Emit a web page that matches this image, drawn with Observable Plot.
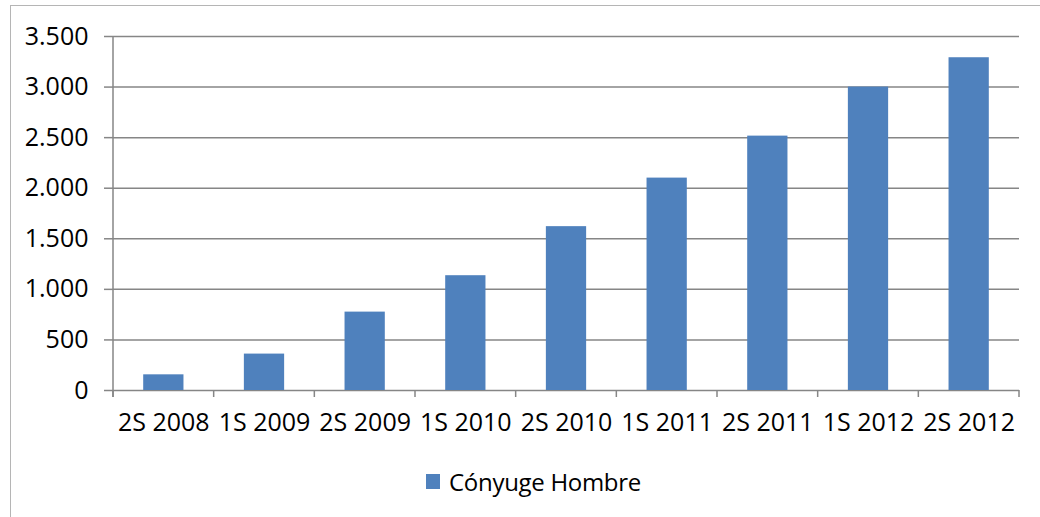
<!DOCTYPE html>
<html><head><meta charset="utf-8">
<script src="https://cdn.jsdelivr.net/npm/d3@7"></script>
<script src="https://cdn.jsdelivr.net/npm/@observablehq/plot@0.6"></script>
<style>
html,body{margin:0;padding:0;background:#fff;width:1040px;height:517px;overflow:hidden;}
#wrap{position:relative;width:1040px;height:517px;font-family:"Open Sans",sans-serif;}
#frame{position:absolute;left:10px;top:5px;width:1100px;height:600px;border:1.5px solid #b5b5b5;box-sizing:border-box;}
#chart{position:absolute;left:0;top:0;}
#legend{position:absolute;left:0;top:455px;width:1067px;height:52px;display:flex;justify-content:center;align-items:center;font-size:24px;letter-spacing:-0.3px;color:#000;}
.sw{display:inline-block;width:14px;height:15px;background:#4f81bd;margin-right:9px;}
</style></head><body>
<div id="wrap"><div id="frame"></div><div id="chart"></div><div id="legend"><span class="sw"></span><span id="lgtext"></span></div></div>
<script>
const categories = ["2S 2008","1S 2009","2S 2009","1S 2010","2S 2010","1S 2011","2S 2011","1S 2012","2S 2012"];
const values = [155, 360, 775, 1135, 1620, 2100, 2515, 3000, 3290];
const yTicks = [0, 500, 1000, 1500, 2000, 2500, 3000, 3500];
const seriesName = "Cónyuge Hombre";

const fmt = d3.formatLocale({decimal:",", thousands:".", grouping:[3], currency:["",""]}).format(",d");
const data = categories.map((c, i) => ({cat: c, value: values[i]}));
const gray = "#868686";

const plot = Plot.plot({
  width: 1040, height: 455,
  marginLeft: 113, marginRight: 21, marginTop: 36, marginBottom: 65,
  style: {fontFamily: "'Open Sans', sans-serif", fontSize: "25px", color: "#000", background: "transparent", overflow: "visible"},
  x: {domain: categories, paddingInner: 0.6, paddingOuter: 0.3, round: false, label: null},
  y: {domain: [0, 3500], label: null},
  marks: [
    Plot.ruleY(yTicks, {stroke: gray, strokeWidth: 1.5}),
    Plot.barY(data, {x: "cat", y: "value", fill: "#4f81bd"}),
    Plot.axisY(yTicks, {tickSize: 9, tickPadding: 16, tickFormat: fmt, stroke: gray, strokeWidth: 1.5, fill: "#000", label: null}),
    Plot.axisX({tickSize: 0, tickPadding: 23, fill: "#000", label: null})
  ]
});

// axis line and band-boundary ticks drawn from the plot's own scales
const xs = plot.scale("x"), ys = plot.scale("y");
const y0 = ys.apply(0), yTop = ys.apply(3500);
const gap = (xs.step - xs.bandwidth) / 2;
const bounds = categories.map(c => xs.apply(c) - gap);
bounds.push(xs.apply(categories[categories.length - 1]) + xs.bandwidth + gap);
const svg = d3.select(plot);
const g = svg.append("g").attr("stroke", gray).attr("stroke-width", 1.5);
g.append("line").attr("x1", bounds[0]).attr("x2", bounds[0]).attr("y1", yTop).attr("y2", y0 + 7);
bounds.forEach(b => g.append("line").attr("x1", b).attr("x2", b).attr("y1", y0).attr("y2", y0 + 7));

document.getElementById("chart").appendChild(plot);
document.getElementById("lgtext").textContent = seriesName;
</script>
</body></html>
